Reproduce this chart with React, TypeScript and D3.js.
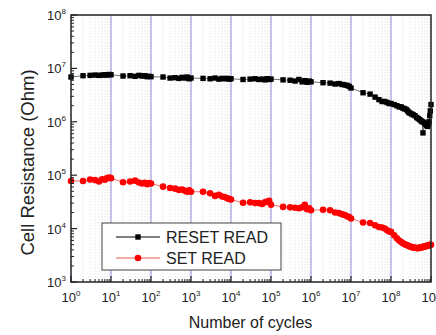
import React from "react";
import * as d3 from "d3";

// Measurement cycles (shared by both read states)
const cycles: number[] = [
  1, 2, 3, 4, 5, 6, 7, 8, 9,
  10, 20, 30, 40, 50, 60, 70, 80, 90,
  100, 200, 300, 400, 500, 600, 700, 800, 900,
  1e3, 2e3, 3e3, 4e3, 5e3, 6e3, 7e3, 8e3, 9e3,
  1e4, 2e4, 3e4, 4e4, 5e4, 6e4, 7e4, 8e4, 9e4,
  1e5, 2e5, 3e5, 4e5, 5e5, 6e5, 7e5, 8e5, 9e5,
  1e6, 2e6, 3e6, 4e6, 5e6, 6e6, 7e6, 8e6, 9e6,
  1e7, 2e7, 3e7, 4e7, 5e7, 6e7, 7e7, 8e7, 9e7,
  1e8, 1.2e8, 1.4e8, 1.6e8, 1.8e8, 2e8, 2.2e8, 2.4e8, 2.6e8, 2.8e8,
  3e8, 3.3e8, 3.6e8, 4e8, 4.4e8, 4.8e8, 5.2e8, 5.6e8, 6e8, 6.3e8,
  6.6e8, 7e8, 7.4e8, 7.8e8, 8.2e8, 8.6e8, 9e8, 9.3e8, 9.6e8, 1e9,
];

// RESET READ resistance, in units of 1e6 Ohm
const resetRead: number[] = [
  6.9, 7.3, 7.4, 7.5, 7.4, 7.5, 7.6, 7.5, 7.7,
  7.6, 7.2, 7.3, 7.1, 7.4, 7.2, 7.3, 7.0, 7.1,
  7.0, 6.9, 6.6, 6.7, 6.5, 6.8, 6.6, 6.9, 6.4,
  6.6, 6.5, 6.4, 6.6, 6.3, 6.5, 6.4, 6.5, 6.3,
  6.4, 6.2, 6.3, 6.4, 6.2, 6.3, 6.1, 6.4, 6.2,
  6.3, 6.1, 6.0, 5.8, 6.2, 5.6, 5.9, 5.5, 5.8,
  5.6, 5.4, 5.3, 5.1, 5.2, 5.0, 4.9, 4.8, 4.6,
  4.3, 3.5, 3.3, 2.9, 2.6, 2.4, 2.4, 2.3, 2.2,
  2.2, 2.1, 2.0, 1.9, 1.9, 1.8, 1.75, 1.7, 1.6, 1.5,
  1.45, 1.4, 1.35, 1.3, 1.2, 1.15, 1.1, 1.05, 1.0, 0.62,
  0.98, 0.93, 0.9, 0.85, 0.82, 0.9, 1.0, 1.3, 1.6, 2.1,
];

// SET READ resistance, in units of 1e4 Ohm
const setRead: number[] = [
  7.8, 7.8, 8.3, 8.1, 7.6, 8.4, 8.2, 8.8, 9.0,
  8.8, 7.4, 7.6, 7.9, 7.3, 7.0, 7.2, 6.8, 7.1,
  7.0, 6.1, 5.75, 5.6, 5.3, 5.4, 5.1, 4.9, 5.2,
  4.9, 4.9, 4.6, 4.1, 4.3, 4.0, 3.9, 3.7, 3.6,
  3.5, 3.05, 3.1, 3.0, 3.0, 2.9, 3.1, 3.2, 3.3,
  2.8, 2.55, 2.5, 2.45, 2.4, 2.5, 2.8, 2.3, 2.4,
  2.2, 2.25, 2.2, 2.0, 1.95, 1.85, 1.8, 1.7, 1.65,
  1.55, 1.3, 1.27, 1.15, 1.07, 1.05, 1.0, 0.93, 0.88,
  0.87, 0.75, 0.66, 0.6, 0.56, 0.53, 0.51, 0.5, 0.48, 0.47,
  0.46, 0.45, 0.44, 0.44, 0.43, 0.43, 0.44, 0.44, 0.45, 0.45,
  0.46, 0.46, 0.47, 0.47, 0.48, 0.48, 0.49, 0.49, 0.5, 0.5,
];

const xDecades: number[] = [0, 1, 2, 3, 4, 5, 6, 7, 8, 9];
const yDecades: number[] = [3, 4, 5, 6, 7, 8];
const seriesNames: string[] = ["RESET READ", "SET READ"];

const W = 436;
const H = 335;
const M = { left: 71, right: 431, top: 15, bottom: 282 };
const FONT = "'Liberation Sans', Arial, Helvetica, sans-serif";

export default function App() {
  const x = d3.scaleLog().domain([1, 1e9]).range([M.left, M.right]);
  const y = d3.scaleLog().domain([1e3, 1e8]).range([M.bottom, M.top]);

  const reset = cycles.map((c, i) => ({ c, v: resetRead[i] * 1e6 }));
  const set = cycles.map((c, i) => ({ c, v: setRead[i] * 1e4 }));

  const line = d3
    .line<{ c: number; v: number }>()
    .x((d) => x(d.c))
    .y((d) => y(d.v));

  const minorX: number[] = [];
  xDecades.slice(0, -1).forEach((d) => {
    for (let m = 2; m <= 9; m++) minorX.push(m * Math.pow(10, d));
  });
  const minorY: number[] = [];
  yDecades.slice(0, -1).forEach((d) => {
    for (let m = 2; m <= 9; m++) minorY.push(m * Math.pow(10, d));
  });

  return (
    <svg
      width={W}
      height={H}
      style={{ position: "absolute", left: 0, top: 0, background: "#fff" }}
      fontFamily={FONT}
    >
      {/* minor vertical grid */}
      {minorX.map((c, i) => (
        <line
          key={"mg" + i}
          x1={x(c)}
          x2={x(c)}
          y1={M.top}
          y2={M.bottom}
          stroke="#e0e0e0"
          strokeWidth={0.8}
          strokeDasharray="1.5,1.5"
        />
      ))}
      {/* decade grid */}
      {xDecades.slice(1, -1).map((d) => (
        <line
          key={"g" + d}
          x1={x(Math.pow(10, d))}
          x2={x(Math.pow(10, d))}
          y1={M.top}
          y2={M.bottom}
          stroke="#9494da"
          strokeWidth={1.1}
        />
      ))}

      {/* connecting lines */}
      <path d={line(reset) || ""} fill="none" stroke="#333" strokeWidth={0.7} />
      <path d={line(set) || ""} fill="none" stroke="#e33" strokeWidth={0.7} />

      {/* markers */}
      {reset.map((d, i) => (
        <rect
          key={"r" + i}
          x={x(d.c) - 2.7}
          y={y(d.v) - 2.7}
          width={5.4}
          height={5.4}
          fill="#000"
        />
      ))}
      {set.map((d, i) => (
        <circle key={"s" + i} cx={x(d.c)} cy={y(d.v)} r={3.3} fill="#f00" />
      ))}

      {/* frame */}
      <rect
        x={M.left}
        y={M.top}
        width={M.right - M.left}
        height={M.bottom - M.top}
        fill="none"
        stroke="#222"
        strokeWidth={1.5}
      />

      {/* bottom axis ticks (inward) */}
      {xDecades.map((d) => (
        <line
          key={"xt" + d}
          x1={x(Math.pow(10, d))}
          x2={x(Math.pow(10, d))}
          y1={M.bottom}
          y2={M.bottom - 6}
          stroke="#222"
          strokeWidth={1.2}
        />
      ))}
      {minorX.map((c, i) => (
        <line
          key={"xm" + i}
          x1={x(c)}
          x2={x(c)}
          y1={M.bottom}
          y2={M.bottom - 3}
          stroke="#222"
          strokeWidth={1}
        />
      ))}
      {/* left axis ticks (inward) */}
      {yDecades.map((d) => (
        <line
          key={"yt" + d}
          x1={M.left}
          x2={M.left + 6}
          y1={y(Math.pow(10, d))}
          y2={y(Math.pow(10, d))}
          stroke="#222"
          strokeWidth={1.2}
        />
      ))}
      {minorY.map((c, i) => (
        <line
          key={"ym" + i}
          x1={M.left}
          x2={M.left + 3}
          y1={y(c)}
          y2={y(c)}
          stroke="#222"
          strokeWidth={1}
        />
      ))}

      {/* x tick labels */}
      {xDecades.map((d) => (
        <text
          key={"xl" + d}
          x={x(Math.pow(10, d))}
          y={302}
          textAnchor="middle"
          fontSize={13}
          fill="#222"
        >
          <tspan>10</tspan>
          <tspan dy={-6} fontSize={8}>
            {d}
          </tspan>
        </text>
      ))}
      {/* y tick labels */}
      {yDecades.map((d) => (
        <text
          key={"yl" + d}
          x={66}
          y={y(Math.pow(10, d)) + 5}
          textAnchor="end"
          fontSize={13}
          fill="#222"
        >
          <tspan>10</tspan>
          <tspan dy={-6} fontSize={8}>
            {d}
          </tspan>
        </text>
      ))}

      {/* axis titles */}
      <text x={250.5} y={328} textAnchor="middle" fontSize={16} fill="#222">
        Number of cycles
      </text>
      <text
        transform="translate(34,162.5) rotate(-90)"
        textAnchor="middle"
        fontSize={18.5}
        fill="#222"
      >
        Cell Resistance (Ohm)
      </text>

      {/* legend */}
      <rect x={102} y={223} width={179} height={47} fill="#fff" stroke="#444" strokeWidth={1} />
      <line x1={116} x2={160} y1={237} y2={237} stroke="#000" strokeWidth={1} />
      <rect x={135.3} y={234.3} width={5.4} height={5.4} fill="#000" />
      <text x={166} y={243} fontSize={16} fill="#222">
        {seriesNames[0]}
      </text>
      <line x1={116} x2={160} y1={258} y2={258} stroke="#e55" strokeWidth={1} />
      <circle cx={138} cy={258} r={3.3} fill="#f00" />
      <text x={166} y={264} fontSize={16} fill="#222">
        {seriesNames[1]}
      </text>
    </svg>
  );
}
